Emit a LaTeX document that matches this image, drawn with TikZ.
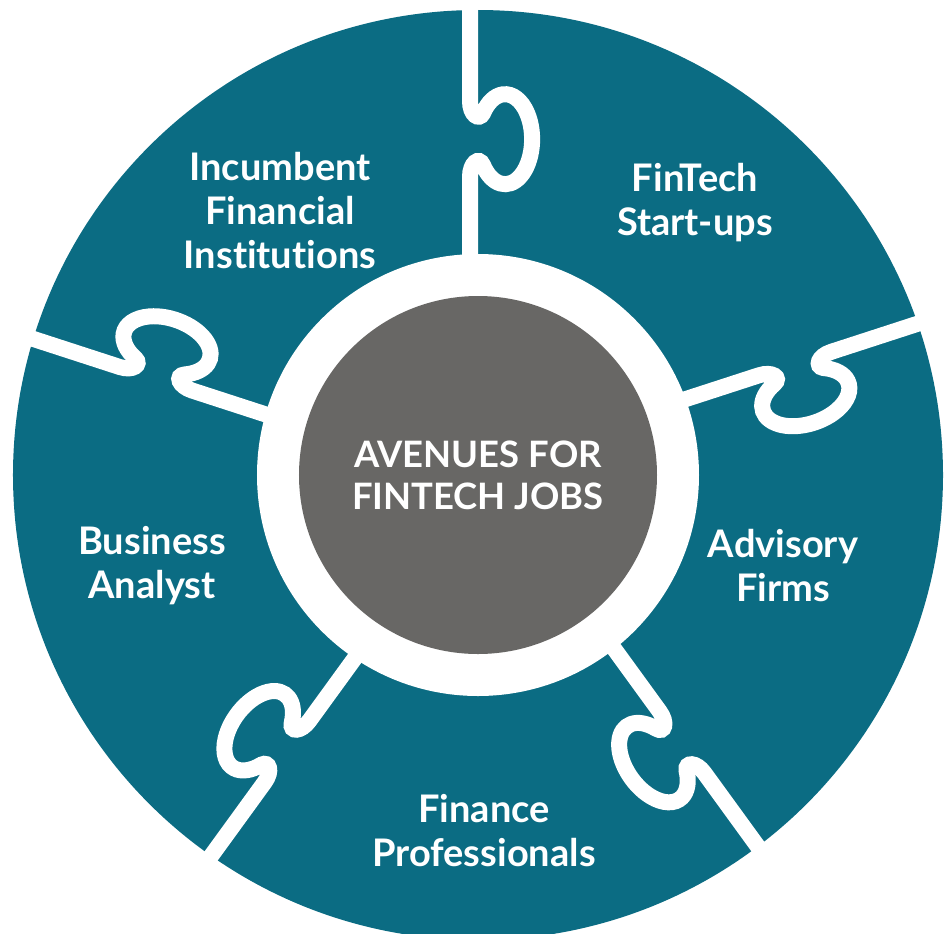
\documentclass[tikz,border=0pt]{standalone}
\usepackage{fontspec}
\setmainfont{Lato}[Ligatures=CommonOff]
\definecolor{puzzleteal}{RGB}{11,108,131}
\definecolor{hubgray}{RGB}{104,103,101}
\tikzset{
  piecelabel/.style={text=white,align=center,
    font=\bfseries\fontsize{28.5}{33}\selectfont},
  hub/.style={circle,fill=hubgray,minimum size=268.5pt,inner sep=0pt,
    text=white,align=center,font=\bfseries\fontsize{27.3}{31.5}\selectfont},
  seam/.style={white,line width=12pt}
}
\begin{document}
\begin{tikzpicture}[x=0.75pt,y=0.75pt]
  \useasboundingbox (-478,-458) rectangle (474,475);
  \clip (-478,-458) rectangle (474,475);
  \pgfmathsetmacro\outr{465}
  \pgfmathsetmacro\inr{221}
  \fill[puzzleteal] (0,0) circle (\outr);
  % one seam with its knob per piece, knob turned clockwise
  \foreach \a in {90,18,-54,-126,162} {
    \draw[seam,rotate=\a]
      (150,8) -- (298,8) .. controls (312,8) and (319,-1) .. (310,-5)
      arc[start angle=125,end angle=415,x radius=45,y radius=27]
      .. controls (354,-1) and (360,8) .. (374,8) -- (520,8);
  }
  \fill[white] (0,0) circle (\inr);
  \node[hub] (hub) at (0,0) {AVENUES FOR\\FINTECH JOBS};
  \node[piecelabel] (incumbent) at (-198,264) {Incumbent\\Financial\\Institutions};
  \node[piecelabel] (startups) at (217,272) {FinTech\\Start-ups};
  \node[piecelabel] (advisory) at (305,-91) {Advisory\\Firms};
  \node[piecelabel] (finance) at (6,-356) {Finance\\Professionals};
  \node[piecelabel] (analyst) at (-326,-91) {Business\\Analyst};
\end{tikzpicture}
\end{document}
